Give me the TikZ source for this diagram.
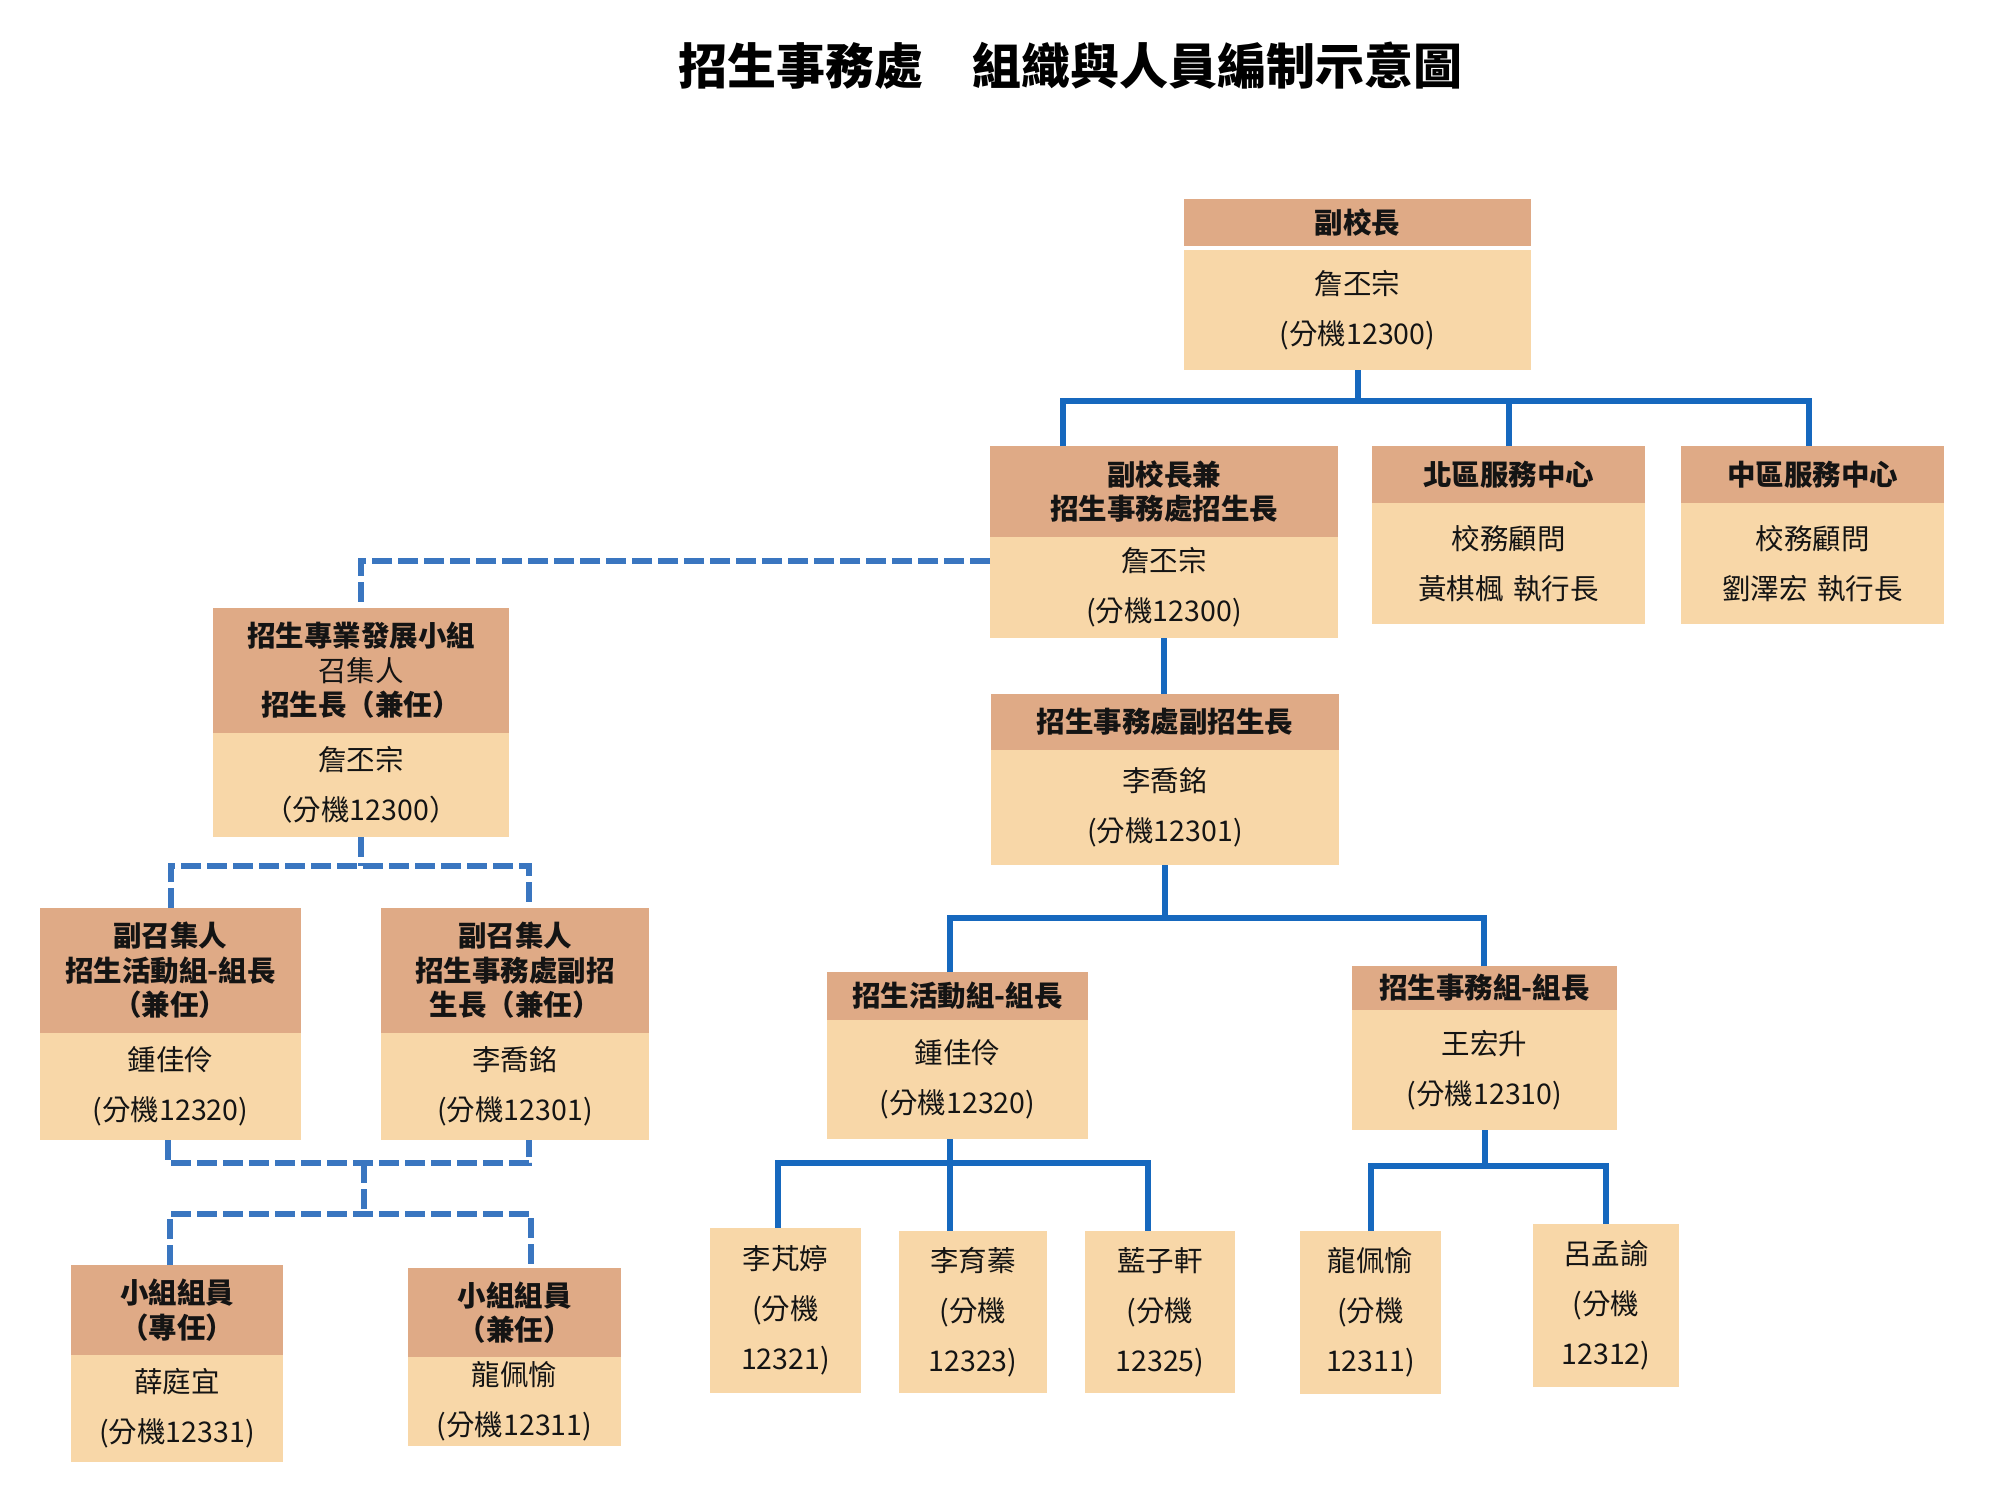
\documentclass[tikz,border=0pt]{standalone}
\usepackage{fontspec}
\setmainfont{Noto Sans CJK TC}
\definecolor{hdrc}{RGB}{223,170,134}
\definecolor{bodc}{RGB}{248,215,168}
\definecolor{lnc}{RGB}{22,104,190}
\definecolor{dlc}{RGB}{58,118,192}
\definecolor{txc}{RGB}{20,20,20}
\tikzset{
 hdr/.style={fill=hdrc, anchor=north west, inner sep=0pt, outer sep=0pt, align=center, text=txc, font=\bfseries\fontsize{28.5}{34.5}\selectfont},
 bod/.style={fill=bodc, anchor=north west, inner sep=0pt, outer sep=0pt, align=center, text=txc, font=\fontsize{28.5}{50}\selectfont},
 conn/.style={draw=lnc, line width=6pt},
 dconn/.style={draw=dlc, line width=6pt, dash pattern=on 20pt off 6pt},
}
% name, x, y, w, header height, body height, header, body
\newcommand\mkbox[8]{%
 \node[hdr, minimum width=#4pt, minimum height=#5pt, text width=#4pt] (#1h) at (#2,#3) {#7};
 \node[bod, minimum width=#4pt, minimum height=#6pt, text width=#4pt] (#1b) at (#1h.south west) {#8};
}
\begin{document}
\begin{tikzpicture}[x=1pt,y=-1pt]
\fill[white] (0,0) rectangle (2000,1500);
\useasboundingbox (0,0) rectangle (2000,1500);

\node[font=\bfseries\fontsize{49}{55}\selectfont, text=black] (title) at (1070,66) {招生事務處　組織與人員編制示意圖};

% top box with white gap
\node[hdr, minimum width=347pt, minimum height=47pt, text width=347pt] (b1h) at (1184,199) {副校長};
\node[bod, minimum width=347pt, minimum height=120pt, text width=347pt] (b1b) at (1184,250) {詹丕宗\\(分機12300)};

\mkbox{b2}{990}{446}{348}{91}{101}{副校長兼\\招生事務處招生長}{詹丕宗\\(分機12300)}
\mkbox{b3}{1372}{446}{273}{57}{121}{北區服務中心}{校務顧問\\黃棋楓 執行長}
\mkbox{b4}{1681}{446}{263}{57}{121}{中區服務中心}{校務顧問\\劉澤宏 執行長}
\mkbox{b5}{213}{608}{296}{125}{104}{招生專業發展小組\\{\mdseries 召集人}\\招生長（兼任）}{詹丕宗\\（分機12300）}
\mkbox{b6}{991}{694}{348}{56}{115}{招生事務處副招生長}{李喬銘\\(分機12301)}
\mkbox{b7}{827}{972}{261}{48}{119}{招生活動組-組長}{鍾佳伶\\(分機12320)}
\mkbox{b8}{1352}{966}{265}{44}{120}{招生事務組-組長}{王宏升\\(分機12310)}
\mkbox{b9}{40}{908}{261}{125}{107}{副召集人\\招生活動組-組長\\（兼任）}{鍾佳伶\\(分機12320)}
\mkbox{b10}{381}{908}{268}{125}{107}{副召集人\\招生事務處副招\\生長（兼任）}{李喬銘\\(分機12301)}
\mkbox{b11}{71}{1265}{212}{90}{107}{小組組員\\（專任）}{薛庭宜\\(分機12331)}
\mkbox{b12}{408}{1268}{213}{89}{89}{小組組員\\（兼任）}{龍佩愉\\(分機12311)}

\node[bod, minimum width=151pt, minimum height=165pt, text width=151pt] (p1) at (710,1228) {李芃婷\\(分機\\12321)};
\node[bod, minimum width=148pt, minimum height=162pt, text width=148pt] (p2) at (899,1231) {李育蓁\\(分機\\12323)};
\node[bod, minimum width=150pt, minimum height=162pt, text width=150pt] (p3) at (1085,1231) {藍子軒\\(分機\\12325)};
\node[bod, minimum width=141pt, minimum height=163pt, text width=141pt] (p4) at (1300,1231) {龍佩愉\\(分機\\12311)};
\node[bod, minimum width=146pt, minimum height=163pt, text width=146pt] (p5) at (1533,1224) {呂孟諭\\(分機\\12312)};

% solid connectors
\coordinate (t1) at (1063,401); \coordinate (t2) at (1809,401);
\draw[conn] (b1b.south) -- (b1b.south |- t1);
\draw[conn] (t1 |- b2h.north) -- (t1) -- (t2) -- (t2 |- b4h.north);
\draw[conn] (b3h.north) -- (b3h.north |- t1);
\draw[conn] (b2b.south) -- (b2b.south |- b6h.north);

\coordinate (m1) at (950,918); \coordinate (m2) at (1484,918);
\draw[conn] (b6b.south) -- (b6b.south |- m1);
\draw[conn] (m1 |- b7h.north) -- (m1) -- (m2) -- (m2 |- b8h.north);

\coordinate (n1) at (778,1163); \coordinate (n2) at (950,1163); \coordinate (n3) at (1148,1163);
\draw[conn] (n1 |- p1.north) -- (n1) -- (n3) -- (n3 |- p3.north);
\draw[conn] (n2 |- b7b.south) -- (n2 |- p2.north);

\coordinate (q1) at (1371,1166); \coordinate (q2) at (1606,1166);
\draw[conn] (b8b.south) -- (b8b.south |- q1);
\draw[conn] (q1 |- p4.north) -- (q1) -- (q2) -- (q2 |- p5.north);

% dashed connectors
\draw[dconn] ([yshift=-24pt]b2b.north west) -| (b5h.north);
\coordinate (r1) at (171,866); \coordinate (r2) at (529,866);
\draw[dconn] (b5b.south) -- (b5b.south |- r1);
\draw[dconn] (r1 |- b9h.north) -- (r1) -- (r2) -- (r2 |- b10h.north);
\coordinate (s1) at (168,1163); \coordinate (s2) at (529,1163);
\draw[dconn] (s1 |- b9b.south) -- (s1) -- (s2) -- (s2 |- b10b.south);
\coordinate (u0) at (364,1163);
\coordinate (u1) at (170,1214); \coordinate (u2) at (531,1214);
\draw[dconn] (u0) -- (u0 |- u1);
\draw[dconn] (u1 |- b11h.north) -- (u1) -- (u2) -- (u2 |- b12h.north);
\end{tikzpicture}
\end{document}
